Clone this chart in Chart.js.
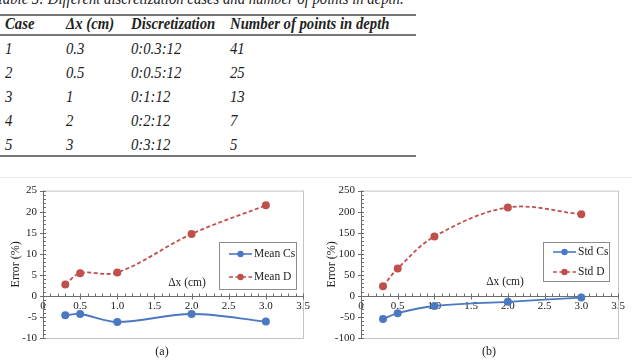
<!DOCTYPE html>
<html>
<head>
<meta charset="utf-8">
<script src="https://cdn.jsdelivr.net/npm/chart.js@4/dist/chart.umd.min.js"></script>
<style>
  body { margin: 0; background: #fff; width: 632px; height: 362px; overflow: hidden; position: relative; font-family: "Liberation Serif", serif; }
  #tbl { position: absolute; left: 0; top: 0; width: 632px; height: 178px; }
  .cap { position: absolute; left: -4px; top: -10px; font-size: 16px; font-style: italic; white-space: nowrap; color: #222; transform: scaleX(0.92); transform-origin: 0 0; }
  .rule { position: absolute; left: 0; width: 416px; height: 1.5px; background: #777; }
  .cell { position: absolute; font-size: 16px; font-style: italic; color: #222; white-space: nowrap; transform: translateY(-50%) scaleX(0.92); transform-origin: 0 50%; }
  .hd { font-weight: bold; }
  .sep { position: absolute; left: 0; top: 177px; width: 632px; height: 1px; background: #ececec; }
  canvas { position: absolute; top: 178px; }
  #c1 { left: 0; }
  #c2 { left: 316px; }
</style>
</head>
<body>
<div id="tbl"></div>
<div class="sep"></div>
<canvas id="c1" width="316" height="184"></canvas>
<canvas id="c2" width="316" height="184"></canvas>
<script>
// table contents
const tableHeader = ["Case", "\u0394x (cm)", "Discretization", "Number of points in depth"];
const tableCases = ["1", "2", "3", "4", "5"];
const tableDx = ["0.3", "0.5", "1", "2", "3"];
const tableDisc = ["0:0.3:12", "0:0.5:12", "0:1:12", "0:2:12", "0:3:12"];
const tablePoints = ["41", "25", "13", "7", "5"];

// chart data
const dx = [0.3, 0.5, 1, 2, 3];
const meanCs = [-4.6, -4.3, -6.2, -4.3, -6.1];
const meanD = [2.7, 5.4, 5.55, 14.7, 21.5];
const stdCs = [-55, -41, -24, -14, -4];
const stdD = [23, 65, 141, 210, 194];

const blue = "#4a78c2";
const red = "#c0504d";

// --- table ---
const tbl = document.getElementById("tbl");
const colX = [5, 66, 131, 230];
const rowY = [49, 73, 97, 121, 145];

const cap = document.createElement("div");
cap.className = "cap";
cap.textContent = "Table 5: Different discretization cases and number of points in depth.";
tbl.appendChild(cap);

[14, 34, 155].forEach(y => {
    const r = document.createElement("div");
    r.className = "rule";
    r.style.top = y + "px";
    tbl.appendChild(r);
});

function addCell(text, x, y, bold) {
    const d = document.createElement("div");
    d.className = "cell" + (bold ? " hd" : "");
    d.style.left = x + "px";
    d.style.top = y + "px";
    d.textContent = text;
    tbl.appendChild(d);
}

tableHeader.forEach((h, i) => addCell(h, colX[i], 24, true));
[tableCases, tableDx, tableDisc, tablePoints].forEach((col, i) => {
    col.forEach((t, j) => addCell(t, colX[i], rowY[j], false));
});

// --- charts ---
const serif = "'Liberation Serif', 'Times New Roman', serif";

const framePlugin = {
    id: "frame",
    beforeDatasetsDraw(chart, args, opts) {
        const { ctx, chartArea: a, scales: { x, y } } = chart;
        ctx.save();
        // plot frame
        ctx.strokeStyle = "#c4c4c4";
        ctx.lineWidth = 1;
        ctx.strokeRect(a.left + 0.5, a.top + 0.5, a.right - a.left, a.bottom - a.top);
        ctx.strokeStyle = "#6e6e6e";
        // y axis line
        ctx.beginPath();
        ctx.moveTo(a.left + 0.5, a.top);
        ctx.lineTo(a.left + 0.5, a.bottom);
        ctx.stroke();
        // x axis line at 0
        const y0 = Math.round(y.getPixelForValue(0)) + 0.5;
        ctx.beginPath();
        ctx.moveTo(a.left, y0);
        ctx.lineTo(a.right, y0);
        ctx.stroke();
        // x ticks
        for (let i = 0; i <= 35; i++) {
            const px = Math.round(x.getPixelForValue(i / 10)) + 0.5;
            ctx.beginPath();
            if (i % 5 === 0) {
                ctx.moveTo(px, y0 - 3);
                ctx.lineTo(px, y0 + 3);
            } else {
                ctx.moveTo(px, y0 - 3);
                ctx.lineTo(px, y0);
            }
            ctx.stroke();
        }
        // y ticks
        const minor = opts.minor;
        for (let v = y.min; v <= y.max + 1e-9; v += minor) {
            const py = Math.round(y.getPixelForValue(v)) + 0.5;
            ctx.beginPath();
            if (Math.abs(v / opts.major - Math.round(v / opts.major)) < 1e-6) {
                ctx.moveTo(a.left - 3, py);
                ctx.lineTo(a.left + 3, py);
            } else {
                ctx.moveTo(a.left, py);
                ctx.lineTo(a.left + 3, py);
            }
            ctx.stroke();
        }
        ctx.restore();
    },
    afterDraw(chart, args, opts) {
        const { ctx } = chart;
        ctx.save();
        // x axis title inside plot
        ctx.font = "11.5px " + serif;
        ctx.fillStyle = "#222";
        ctx.textAlign = "center";
        ctx.textBaseline = "middle";
        ctx.fillText("\u0394x (cm)", opts.xTitle[0], opts.xTitle[1]);
        // panel label
        ctx.font = "12px " + serif;
        ctx.fillText(opts.panel, opts.panelPos[0], opts.panelPos[1]);
        // legend box
        const [lx, ly, lw, lh] = opts.legendBox;
        ctx.fillStyle = "#fff";
        ctx.fillRect(lx, ly, lw, lh);
        ctx.strokeStyle = "#8c8c8c";
        ctx.lineWidth = 1;
        ctx.strokeRect(lx + 0.5, ly + 0.5, lw, lh);
        chart.data.datasets.forEach((ds, i) => {
            const ry = opts.legendRows[i];
            const x1 = lx + 10, x2 = lx + 33;
            ctx.strokeStyle = ds.borderColor;
            ctx.lineWidth = 1.6;
            ctx.setLineDash(ds.borderDash || []);
            ctx.beginPath();
            ctx.moveTo(x1, ry);
            ctx.lineTo(x2, ry);
            ctx.stroke();
            ctx.setLineDash([]);
            ctx.fillStyle = ds.borderColor;
            ctx.beginPath();
            ctx.arc((x1 + x2) / 2, ry, 3.2, 0, Math.PI * 2);
            ctx.fill();
            ctx.fillStyle = "#222";
            ctx.font = "11.5px " + serif;
            ctx.textAlign = "left";
            ctx.fillText(ds.label, x2 + 2, ry);
        });
        ctx.restore();
    }
};

function makeChart(id, seriesA, seriesB, labels, yMin, yMax, yStep, extra) {
    return new Chart(document.getElementById(id), {
        type: "line",
        data: {
            datasets: [
                {
                    label: labels[0],
                    data: dx.map((v, i) => ({ x: v, y: seriesA[i] })),
                    borderColor: blue,
                    backgroundColor: blue,
                    borderWidth: 1.8,
                    pointRadius: 4,
                    pointBorderWidth: 0,
                    tension: 0.35
                },
                {
                    label: labels[1],
                    data: dx.map((v, i) => ({ x: v, y: seriesB[i] })),
                    borderColor: red,
                    backgroundColor: red,
                    borderWidth: 1.8,
                    borderDash: [4, 2.5],
                    pointRadius: 4,
                    pointBorderWidth: 0,
                    tension: 0.35
                }
            ]
        },
        options: {
            responsive: false,
            animation: false,
            clip: false,
            layout: { padding: { left: 0, top: 9, right: extra.padRight, bottom: 24 } },
            plugins: {
                legend: { display: false },
                tooltip: { enabled: false },
                frame: extra
            },
            scales: {
                x: {
                    type: "linear",
                    position: { y: 0 },
                    min: 0,
                    max: 3.5,
                    afterFit: s => { s.height = 0; },
                    ticks: {
                        stepSize: 0.5,
                        padding: 4,
                        maxRotation: 0,
                        color: "#222",
                        font: { family: serif, size: 11 }
                    },
                    grid: { display: false, drawTicks: false },
                    border: { display: false }
                },
                y: {
                    min: yMin,
                    max: yMax,
                    afterFit: s => { s.width = extra.yWidth; },
                    ticks: {
                        stepSize: yStep,
                        padding: 6,
                        color: "#222",
                        font: { family: serif, size: 11 }
                    },
                    grid: { display: false, drawTicks: false },
                    border: { display: false },
                    title: {
                        display: true,
                        text: "Error (%)",
                        color: "#222",
                        padding: { top: 9, bottom: 0 },
                        font: { family: serif, size: 12 }
                    }
                }
            }
        },
        plugins: [framePlugin]
    });
}

makeChart("c1", meanCs, meanD, ["Mean Cs", "Mean D"], -10, 25, 5, {
    yWidth: 43, padRight: 13, minor: 1, major: 5,
    xTitle: [187, 105], panel: "(a)", panelPos: [162, 174],
    legendBox: [219, 64, 77, 47], legendRows: [76, 99]
});

makeChart("c2", stdCs, stdD, ["Std Cs", "Std D"], -100, 250, 50, {
    yWidth: 45, padRight: 14, minor: 10, major: 50,
    xTitle: [189, 104], panel: "(b)", panelPos: [173, 174],
    legendBox: [227, 64, 66, 39], legendRows: [74, 94]
});
</script>
</body>
</html>
